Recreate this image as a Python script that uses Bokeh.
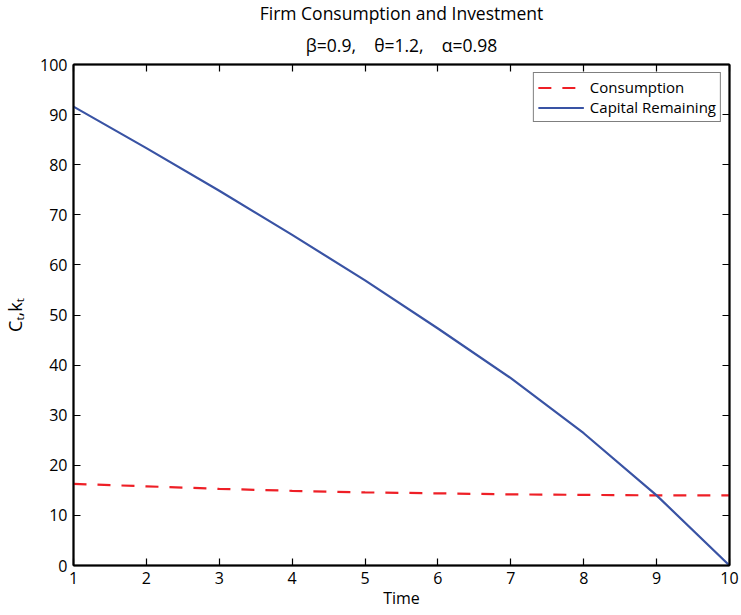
from bokeh.plotting import figure
from bokeh.models import LinearAxis, Title, Legend, LegendItem, FixedTicker, Range1d
from bokeh.embed import file_html
from bokeh.resources import INLINE

# Optimal path of the firm over ten periods
time = [1, 2, 3, 4, 5, 6, 7, 8, 9, 10]
consumption = [16.3, 15.8, 15.3, 14.9, 14.6, 14.4, 14.2, 14.1, 14.0, 14.0]
capital = [91.6, 83.3, 74.8, 66.0, 56.9, 47.3, 37.4, 26.4, 14.0, 0.0]

x_ticks = [1, 2, 3, 4, 5, 6, 7, 8, 9, 10]
y_ticks = [0, 10, 20, 30, 40, 50, 60, 70, 80, 90, 100]

FONT = "Open Sans"
NB = "\u00a0"

p = figure(width=741, height=615, output_backend="svg", toolbar_location=None,
           x_range=Range1d(1, 10), y_range=Range1d(0, 100),
           min_border_left=71, min_border_right=12, min_border_top=64,
           min_border_bottom=50, x_axis_location=None, y_axis_location=None)
p.grid.visible = False
p.background_fill_color = "white"
p.border_fill_color = "white"
p.outline_line_color = "black"
p.outline_line_width = 1.5


def style_axis(ax, ticks, labels=True):
    ax.ticker = FixedTicker(ticks=ticks)
    ax.axis_line_color = "black"
    ax.axis_line_width = 2
    ax.major_tick_in = 7
    ax.major_tick_out = 0
    ax.major_tick_line_width = 1.2
    ax.minor_tick_line_color = None
    if labels:
        ax.major_label_text_font = FONT
        ax.major_label_text_font_size = "16px"
        ax.major_label_text_color = "black"
        ax.major_label_standoff = 6
        ax.axis_label_text_font = FONT
        ax.axis_label_text_font_size = "16px"
        ax.axis_label_text_font_style = "normal"
        ax.axis_label_text_color = "black"
    else:
        # frame ticks only, no numbers on the top and right edges
        ax.major_label_text_color = None
        ax.major_label_text_font_size = "1px"
        ax.major_label_standoff = 0


xb = LinearAxis(axis_label="Time")
style_axis(xb, x_ticks)
xb.axis_label_standoff = 0
p.add_layout(xb, "below")

yl = LinearAxis(axis_label="C\u209c,k\u209c")
style_axis(yl, y_ticks)
yl.axis_label_text_font_size = "18px"
yl.axis_label_standoff = 10
p.add_layout(yl, "left")

xt = LinearAxis()
style_axis(xt, x_ticks, labels=False)
p.add_layout(xt, "above")

yr = LinearAxis()
style_axis(yr, y_ticks, labels=False)
p.add_layout(yr, "right")

r_cons = p.line(time, consumption, line_color="#ee1f26", line_width=2.2,
                line_dash="13 11")
r_cap = p.line(time, capital, line_color="#3953a4", line_width=2.2)

legend = Legend(items=[LegendItem(label="Consumption", renderers=[r_cons]),
                       LegendItem(label="Capital Remaining", renderers=[r_cap])],
                location="top_right")
legend.margin = 8
legend.padding = 4
legend.spacing = 0
legend.glyph_width = 46
legend.glyph_height = 17
legend.label_height = 17
legend.label_standoff = 6
legend.label_text_font = FONT
legend.label_text_font_size = "15px"
legend.label_text_color = "black"
legend.border_line_color = "black"
legend.border_line_width = 1
legend.background_fill_color = "white"
legend.background_fill_alpha = 1
p.add_layout(legend, "center")

sub = Title(text=f"\u03b2=0.9,{NB*4}\u03b8=1.2,{NB*4}\u03b1=0.98", align="center",
            text_font=FONT, text_font_size="17.5px", text_font_style="normal",
            text_color="black", standoff=16, offset=1)
main = Title(text="Firm Consumption and Investment", align="center",
             text_font=FONT, text_font_size="17.5px", text_font_style="normal",
             text_color="black", standoff=-4, offset=2)
p.add_layout(sub, "above")
p.add_layout(main, "above")

open("out.html", "w").write(file_html(p, INLINE))
